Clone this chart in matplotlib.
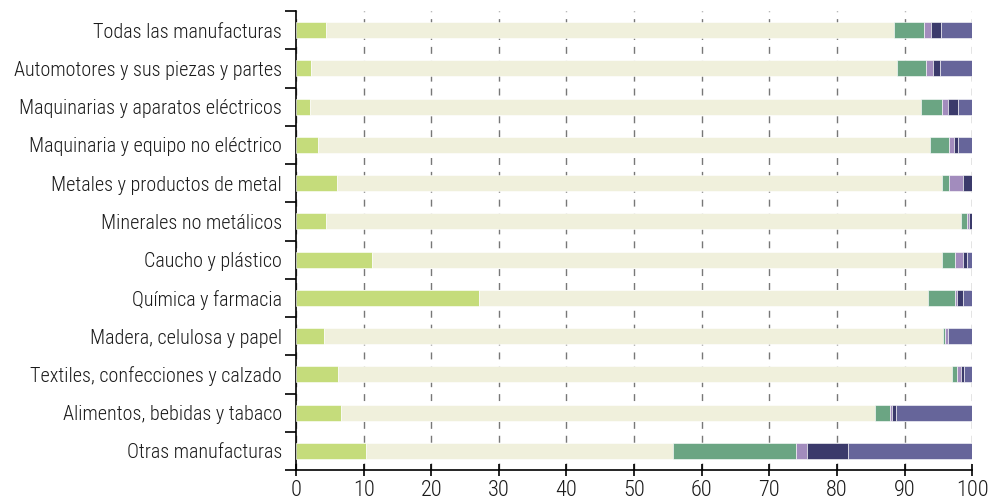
import numpy as np
import matplotlib
matplotlib.use("Agg")
import matplotlib.pyplot as plt

# categories, top to bottom
categories = [
    "Todas las manufacturas",
    "Automotores y sus piezas y partes",
    "Maquinarias y aparatos eléctricos",
    "Maquinaria y equipo no eléctrico",
    "Metales y productos de metal",
    "Minerales no metálicos",
    "Caucho y plástico",
    "Química y farmacia",
    "Madera, celulosa y papel",
    "Textiles, confecciones y calzado",
    "Alimentos, bebidas y tabaco",
    "Otras manufacturas",
]

# six stacked shares (%)
seg1 = [4.5, 2.2, 2.1, 3.2, 6.0, 4.4, 11.3, 27.0, 4.2, 6.2, 6.6, 10.3]
seg2 = [83.9, 86.7, 90.3, 90.5, 89.6, 94.0, 84.2, 66.4, 91.5, 90.8, 79.1, 45.5]
seg3 = [4.5, 4.2, 3.1, 2.8, 1.0, 0.8, 2.0, 4.0, 0.3, 0.7, 2.2, 18.1]
seg4 = [1.0, 1.1, 0.9, 0.8, 2.0, 0.4, 1.1, 0.4, 0.4, 0.6, 0.3, 1.7]
seg5 = [1.5, 1.1, 1.5, 0.6, 1.4, 0.4, 0.6, 0.9, 0.0, 0.5, 0.6, 6.1]
seg6 = [4.6, 4.7, 2.1, 2.1, 0.0, 0.0, 0.8, 1.3, 3.6, 1.2, 11.2, 18.3]

colors = ["#c5dc7b", "#f0f0dc", "#6ba583", "#a28cbd", "#3b3a6b", "#66659a"]

plt.rcParams["font.family"] = ["Roboto Condensed", "Fira Sans Condensed", "DejaVu Sans"]
plt.rcParams["font.weight"] = "light"

fig = plt.figure(figsize=(9.9, 5.03), dpi=100)
ax = fig.add_axes([0.299, 0.0656, 0.683, 0.9125])

y = np.arange(len(categories))
left = np.zeros(len(categories))
for vals, c in zip([seg1, seg2, seg3, seg4, seg5, seg6], colors):
    vals = np.array(vals)
    ax.barh(y, vals, left=left, height=0.42, color=c, edgecolor="white",
            linewidth=0.4, zorder=3)
    left += vals

ax.set_xlim(0, 100)
ax.set_ylim(len(categories) - 0.5, -0.5)
ax.set_xticks(np.arange(0, 101, 10))
ax.set_yticks(y)
ax.set_yticklabels(categories, fontsize=14.5, color="#1a1a1a")
ax.set_yticks(np.arange(-0.5, len(categories)), minor=True)
ax.tick_params(axis="y", which="major", length=0, pad=10)
ax.tick_params(axis="y", which="minor", length=8, width=1.2, direction="out")
ax.tick_params(axis="x", labelsize=16, length=8, width=1.2, direction="inout",
               labelcolor="#1a1a1a", pad=3)
ax.grid(axis="x", color="#777777", linestyle=(0, (5, 5)), linewidth=1, zorder=0)
for s in ["top", "right"]:
    ax.spines[s].set_visible(False)
for s in ["left", "bottom"]:
    ax.spines[s].set_linewidth(1.2)

fig.savefig("out.png", dpi=100)
